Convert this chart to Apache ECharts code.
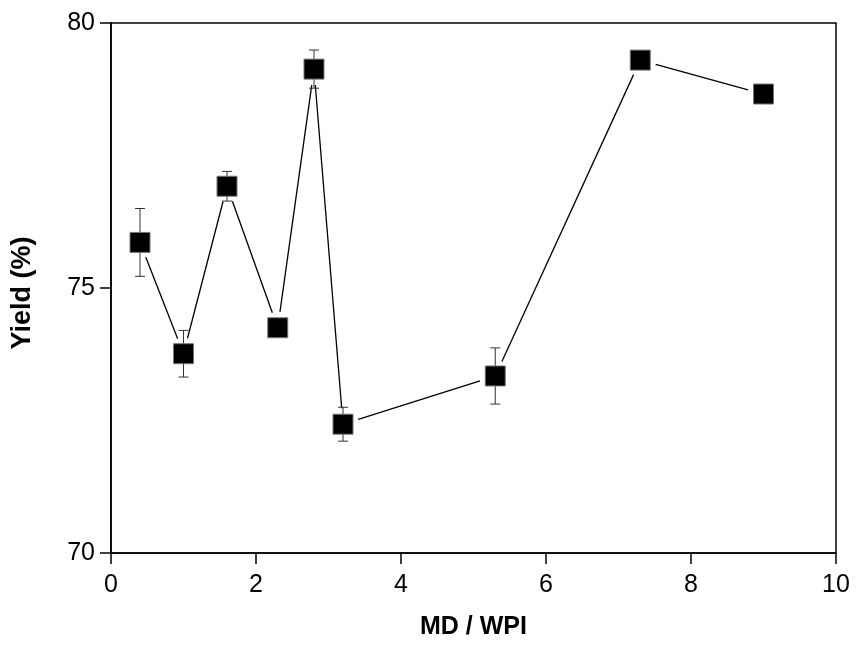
<!DOCTYPE html>
<html>
<head>
<meta charset="utf-8">
<script src="https://cdn.jsdelivr.net/npm/echarts@6/dist/echarts.min.js"></script>
<style>
html,body{margin:0;padding:0;background:#fff;}
#chart{width:856px;height:645px;}
</style>
</head>
<body>
<div id="chart"></div>
<script>
const xValues = [0.4, 1.0, 1.6, 2.3, 2.8, 3.2, 5.3, 7.3, 9.0];
const yValues = [75.86, 73.76, 76.92, 74.25, 79.13, 72.43, 73.34, 79.30, 78.66];
const yErrors = [0.64, 0.44, 0.28, 0, 0.36, 0.32, 0.53, 0, 0];
const xTicks = [0, 2, 4, 6, 8, 10];
const yTicks = [70, 75, 80];

const FONT = '"Liberation Sans", Arial, sans-serif';
const points = xValues.map((x, i) => [x, yValues[i]]);
const segments = xValues.slice(0, -1).map((x, i) => [x, yValues[i], xValues[i + 1], yValues[i + 1]]);
const errData = xValues.map((x, i) => [x, yValues[i], yErrors[i]]);

const chart = echarts.init(document.getElementById('chart'), null, {renderer: 'canvas'});
chart.setOption({
  backgroundColor: '#fff',
  animation: false,
  grid: {left: 111, right: 20, top: 23, bottom: 88, show: true, borderColor: '#000', borderWidth: 1.5, backgroundColor: 'transparent'},
  xAxis: {
    type: 'value', min: xTicks[0], max: xTicks[xTicks.length - 1], interval: 2,
    name: 'MD / WPI', nameLocation: 'middle', nameGap: 62,
    nameTextStyle: {fontFamily: FONT, fontSize: 25, fontWeight: 'bold', color: '#000'},
    axisLine: {show: true, lineStyle: {color: '#000', width: 1.5}},
    axisTick: {show: true, inside: false, length: 11, lineStyle: {color: '#000', width: 1.5}},
    axisLabel: {fontFamily: FONT, fontSize: 25, color: '#000', margin: 20},
    splitLine: {show: false}
  },
  yAxis: {
    type: 'value', min: yTicks[0], max: yTicks[yTicks.length - 1], interval: 5,
    name: 'Yield (%)', nameLocation: 'middle', nameGap: 75,
    nameTextStyle: {fontFamily: FONT, fontSize: 27, fontWeight: 'bold', color: '#000', padding: [0, 10, 0, 0]},
    axisLine: {show: true, lineStyle: {color: '#000', width: 1.5}},
    axisTick: {show: true, inside: false, length: 11, lineStyle: {color: '#000', width: 1.5}},
    axisLabel: {fontFamily: FONT, fontSize: 25, color: '#000', margin: 16},
    splitLine: {show: false}
  },
  series: [
    {
      type: 'custom', name: 'line', z: 2,
      data: segments,
      encode: {x: [0, 2], y: [1, 3]},
      renderItem: function (params, api) {
        const p1 = api.coord([api.value(0), api.value(1)]);
        const p2 = api.coord([api.value(2), api.value(3)]);
        const dx = p2[0] - p1[0], dy = p2[1] - p1[1];
        const len = Math.sqrt(dx * dx + dy * dy);
        const gap = 16;
        if (len <= 2 * gap) return null;
        const ux = dx / len, uy = dy / len;
        return {
          type: 'line',
          shape: {x1: p1[0] + ux * gap, y1: p1[1] + uy * gap, x2: p2[0] - ux * gap, y2: p2[1] - uy * gap},
          style: {stroke: '#000', lineWidth: 1.3}
        };
      }
    },
    {
      type: 'custom', name: 'err', z: 3,
      data: errData,
      encode: {x: 0, y: 1},
      renderItem: function (params, api) {
        const x = api.value(0), y = api.value(1), e = api.value(2);
        if (!e) return null;
        const top = api.coord([x, y + e]);
        const bot = api.coord([x, y - e]);
        const hw = 5;
        const st = {stroke: '#333', lineWidth: 1};
        return {
          type: 'group',
          children: [
            {type: 'line', shape: {x1: top[0], y1: top[1], x2: bot[0], y2: bot[1]}, style: st},
            {type: 'line', shape: {x1: top[0] - hw, y1: top[1], x2: top[0] + hw, y2: top[1]}, style: st},
            {type: 'line', shape: {x1: bot[0] - hw, y1: bot[1], x2: bot[0] + hw, y2: bot[1]}, style: st}
          ]
        };
      }
    },
    {
      type: 'scatter', name: 'Yield', z: 4,
      data: points,
      symbol: 'rect', symbolSize: 20,
      itemStyle: {color: '#000', borderColor: '#777', borderWidth: 1, opacity: 1}
    }
  ]
});
</script>
</body>
</html>
